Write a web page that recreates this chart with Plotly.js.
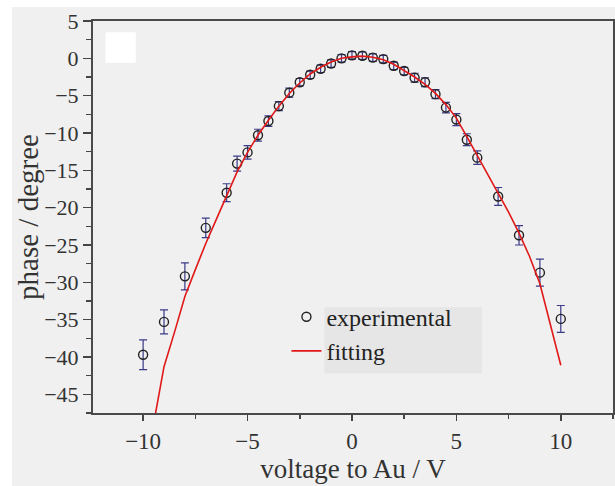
<!DOCTYPE html>
<html>
<head>
<meta charset="utf-8">
<script src="https://cdn.plot.ly/plotly-3.0.1.min.js"></script>
<style>
  html, body { margin: 0; padding: 0; background: #ffffff; width: 615px; height: 486px; overflow: hidden; }
  #chart { position: absolute; left: 12px; top: 7px; width: 603px; height: 479px; }
</style>
</head>
<body>
<div id="chart"></div>
<script>
// Experimental data (voltage to Au / V, phase / degree, error)
const expVoltage = [-10, -9, -8, -7, -6, -5.5, -5, -4.5, -4, -3.5, -3, -2.5, -2, -1.5, -1, -0.5, 0, 0.5, 1, 1.5, 2, 2.5, 3, 3.5, 4, 4.5, 5, 5.5, 6, 7, 8, 9, 10];
const expPhase   = [-39.7, -35.3, -29.2, -22.7, -18.0, -14.1, -12.6, -10.3, -8.4, -6.4, -4.6, -3.2, -2.2, -1.4, -0.7, 0.0, 0.4, 0.35, 0.1, -0.1, -1.0, -1.7, -2.6, -3.2, -4.8, -6.6, -8.2, -10.9, -13.3, -18.5, -23.7, -28.7, -34.9];
const expError   = [2.0, 1.6, 1.8, 1.3, 1.2, 1.0, 0.9, 0.8, 0.7, 0.6, 0.6, 0.5, 0.5, 0.5, 0.5, 0.5, 0.5, 0.5, 0.5, 0.5, 0.5, 0.5, 0.6, 0.6, 0.6, 0.7, 0.8, 0.8, 0.9, 1.2, 1.3, 1.8, 1.8];

// Fitting curve samples
const fitVoltage = [-9.5, -9, -8.5, -8, -7.5, -7, -6.5, -6, -5.5, -5, -4.5, -4, -3.5, -3, -2.5, -2, -1.5, -1, -0.5, 0, 0.5, 1, 1.5, 2, 2.5, 3, 3.5, 4, 4.5, 5, 5.5, 6, 6.5, 7, 7.5, 8, 8.5, 9, 9.5, 10];
const fitPhase   = [-49.0, -41.3, -36.7, -31.9, -28.3, -24.8, -21.6, -18.4, -15.2, -12.6, -10.3, -8.3, -6.4, -4.7, -3.3, -2.1, -1.2, -0.5, 0.0, 0.2, 0.3, 0.15, -0.2, -0.8, -1.6, -2.5, -3.5, -4.7, -6.2, -8.0, -10.5, -13.0, -15.5, -17.9, -20.6, -23.4, -26.5, -30.2, -35.7, -41.1];

const xTicks = [-10, -5, 0, 5, 10];
const yTicks = [5, 0, -5, -10, -15, -20, -25, -30, -35, -40, -45];

const serif = 'Times New Roman, Liberation Serif, DejaVu Serif, serif';

const traces = [
  {
    x: expVoltage, y: expPhase, name: 'experimental', type: 'scatter', mode: 'markers',
    marker: { symbol: 'circle-open', size: 9, color: '#222222', line: { width: 1.4, color: '#222222' } },
    error_y: { type: 'data', array: expError, visible: true, color: '#3a3a88', thickness: 1.2, width: 4 }
  },
  {
    x: fitVoltage, y: fitPhase, name: 'fitting', type: 'scatter', mode: 'lines',
    line: { color: '#e01818', width: 1.6 }
  }
];

const layout = {
  width: 603, height: 479,
  margin: { l: 81, r: 2, t: 14, b: 73 },
  paper_bgcolor: '#f0f0f0',
  plot_bgcolor: '#f0f0f0',
  font: { family: serif, color: '#333333', size: 20 },
  showlegend: true,
  legend: {
    x: 0.372, y: 0.302, xanchor: 'left', yanchor: 'top',
    bgcolor: 'rgba(0,0,0,0)', borderwidth: 0,
    font: { family: serif, size: 24, color: '#222222' }
  },
  xaxis: {
    range: [-12.4, 12.5],
    tickvals: xTicks, ticktext: xTicks.map(v => v < 0 ? '\u2212' + Math.abs(v) : String(v)),
    ticks: 'outside', ticklen: 6, tickwidth: 1.5, tickcolor: '#444',
    minor: { dtick: 2.5, tick0: 0, ticks: 'outside', ticklen: 4, tickwidth: 1.5, tickcolor: '#444' },
    showgrid: false, zeroline: false,
    showline: true, linecolor: '#4a4a4a', linewidth: 2, mirror: true,
    tickfont: { family: serif, size: 23, color: '#333' },
    title: { text: 'voltage to Au / V', font: { family: serif, size: 27, color: '#333' }, standoff: 2 }
  },
  yaxis: {
    range: [-47.5, 5],
    tickvals: yTicks, ticktext: yTicks.map(v => v < 0 ? '\u2212' + Math.abs(v) : String(v)),
    ticks: 'outside', ticklen: 8, tickwidth: 1.5, tickcolor: '#444',
    minor: { dtick: 2.5, tick0: 0, ticks: 'outside', ticklen: 5, tickwidth: 1.5, tickcolor: '#444' },
    showgrid: false, zeroline: false,
    showline: true, linecolor: '#4a4a4a', linewidth: 2, mirror: true,
    tickfont: { family: serif, size: 22, color: '#333' },
    title: { text: 'phase / degree', font: { family: serif, size: 29, color: '#333' }, standoff: 0 }
  },
  shapes: [
    { type: 'rect', xref: 'paper', yref: 'paper', x0: 0.445, x1: 0.748, y0: 0.101, y1: 0.27,
      fillcolor: '#e6e6e6', line: { width: 0 }, layer: 'below' },
    { type: 'rect', xref: 'x', yref: 'y', x0: -11.8, x1: -10.35, y0: -0.6, y1: 3.5,
      fillcolor: '#ffffff', line: { width: 0 }, layer: 'above' }
  ]
};

Plotly.newPlot('chart', traces, layout, { displayModeBar: false, staticPlot: true });
</script>
</body>
</html>
